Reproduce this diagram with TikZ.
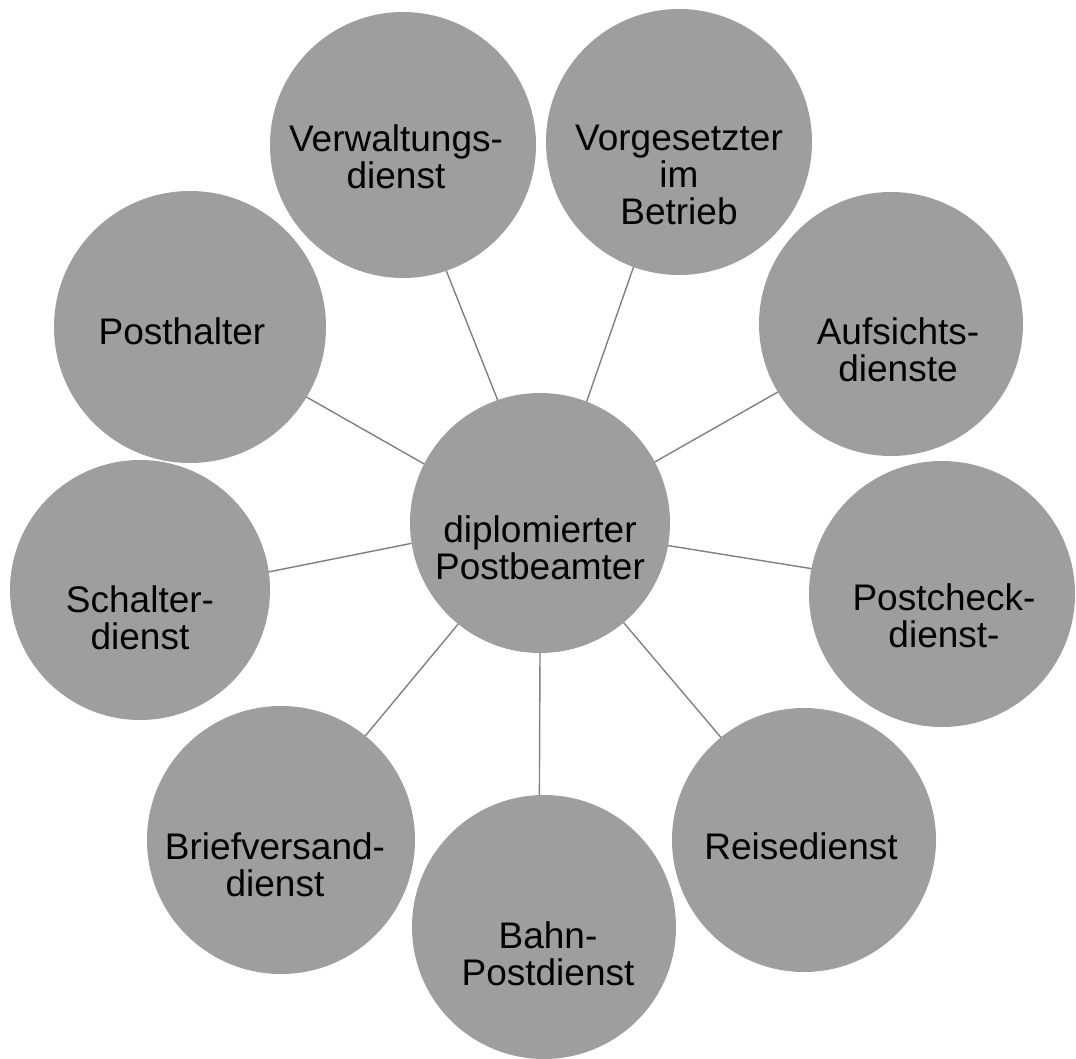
\documentclass[tikz,border=0pt]{standalone}
\usepackage{fontspec}
\setmainfont{Liberation Sans}
\begin{document}
\begin{tikzpicture}[x=1pt,y=-1pt,
  bubble/.style={circle, fill=black!38, draw=none, inner sep=0pt, outer sep=0pt, minimum size=#1},
  lbl/.style={align=center, font=\fontsize{37}{37}\selectfont, text=black, inner sep=0pt},
  link/.style={draw=black!50, line width=1.4pt}]
\useasboundingbox (0,0) rectangle (1076,1059);
% circles
\node[bubble=260pt] (C)     at (540,523) {};
\node[bubble=266pt] (verw)  at (403,145) {};
\node[bubble=266pt] (vorg)  at (679,142) {};
\node[bubble=272pt] (post)  at (190,327) {};
\node[bubble=264pt] (aufs)  at (891,324) {};
\node[bubble=260pt] (schal) at (140,590) {};
\node[bubble=266pt] (check) at (942,594) {};
\node[bubble=268pt] (brief) at (281,840) {};
\node[bubble=264pt] (bahn)  at (544,927) {};
\node[bubble=264pt] (reise) at (804,840) {};
% connectors
\draw[link] (C.109.5) -- (verw.289);
\draw[link] (C.69)    -- (vorg.250.5);
\draw[link] (C.28)    -- (aufs.211);
\draw[link] (C.153)   -- (post.329);
\draw[link] (C.189.3) -- (schal.8.6);
\draw[link] (C.231.5) -- (brief.51);
\draw[link] (C.270)   -- (bahn.92);
\draw[link] (C.310)   -- (reise.129);
\draw[link] (C.350.7) -- (check.169.6);
% labels
\node[lbl] (tC)     at (540,548) {diplomierter\\Postbeamter};
\node[lbl] (tverw)  at (396,157) {Verwaltungs-\\dienst};
\node[lbl] (tvorg)  at (679,175) {Vorgesetzter\\im\\Betrieb};
\node[lbl] (tpost)  at (182,331) {Posthalter};
\node[lbl] (taufs)  at (898,350) {Aufsichts-\\dienste};
\node[lbl] (tschal) at (140,618) {Schalter-\\dienst};
\node[lbl] (tcheck) at (944,616) {Postcheck-\\dienst-};
\node[lbl] (tbrief) at (275,865) {Briefversand-\\dienst};
\node[lbl] (tbahn)  at (548,954) {Bahn-\\Postdienst};
\node[lbl] (treise) at (801,846) {Reisedienst};
\end{tikzpicture}
\end{document}
